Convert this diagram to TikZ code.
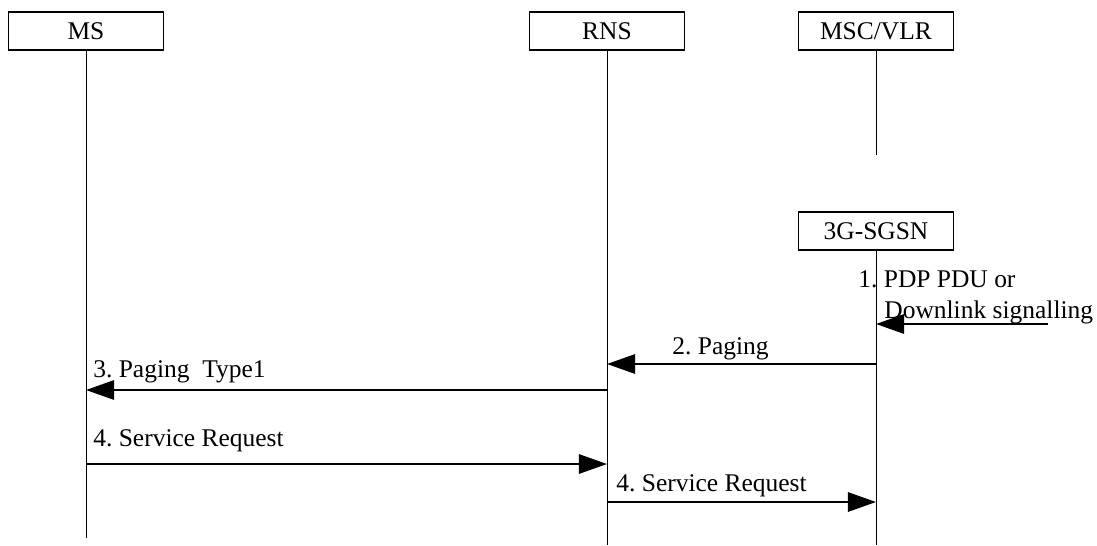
\documentclass[tikz,border=0pt]{standalone}
\usepackage{fontspec}
\setmainfont{Liberation Serif}
\usetikzlibrary{arrows.meta}
\frenchspacing
\tikzset{
  entity/.style={draw,line width=1pt,minimum width=3.1cm,minimum height=0.76cm,inner sep=0pt},
  life/.style={line width=0.5pt},
  msg/.style={line width=1.2pt,-{Triangle[length=16pt,width=11pt]}},
  lbl/.style={anchor=base west,inner sep=0pt}
}
\begin{document}
\begin{tikzpicture}[x=0.02cm,y=-0.02cm,font=\fontsize{14.5}{17.5}\selectfont]
\useasboundingbox (0,0) rectangle (1097,545);
\node[entity] (ms) at (86,31) {MS};
\node[entity] (rns) at (607,31) {RNS};
\node[entity] (msc) at (876,31) {MSC/VLR};
\node[entity] (sgsn) at (876,231) {3G-SGSN};
% lifelines
\coordinate (msEnd) at (ms |- 0,538);
\coordinate (rnsEnd) at (rns |- 0,545);
\coordinate (mscEnd) at (msc |- 0,155);
\coordinate (sgsnEnd) at (sgsn |- 0,545);
\draw[life] (ms) -- (msEnd);
\draw[life] (rns) -- (rnsEnd);
\draw[life] (msc) -- (mscEnd);
\draw[life] (sgsn) -- (sgsnEnd);
% messages
\coordinate (pdu) at (1048,324);
\coordinate (pduIn) at (sgsn |- pdu);
\draw[msg] (pdu) -- (pduIn);
\node[lbl] (l1) at (858,287) {1. PDP PDU or};
\node[lbl] (l1b) at (884,318) {Downlink signalling};
\coordinate (pg1) at (sgsn |- 0,364);
\coordinate (pg2) at (rns |- 0,364);
\draw[msg] (pg1) -- (pg2);
\node[lbl] (l2) at (672,354) {2. Paging};
\coordinate (pt1) at (rns |- 0,390);
\coordinate (pt2) at (ms |- 0,390);
\draw[msg] (pt1) -- (pt2);
\node[lbl] (l3) at (93,377) {3. Paging\ \ Type1};
\coordinate (sr1) at (ms |- 0,464);
\coordinate (sr2) at (rns |- 0,464);
\draw[msg] (sr1) -- (sr2);
\node[lbl] (l4) at (93,446) {4. Service Request};
\coordinate (sr3) at (rns |- 0,502);
\coordinate (sr4) at (sgsn |- 0,502);
\draw[msg] (sr3) -- (sr4);
\node[lbl] (l5) at (616,491) {4. Service Request};
\end{tikzpicture}
\end{document}
